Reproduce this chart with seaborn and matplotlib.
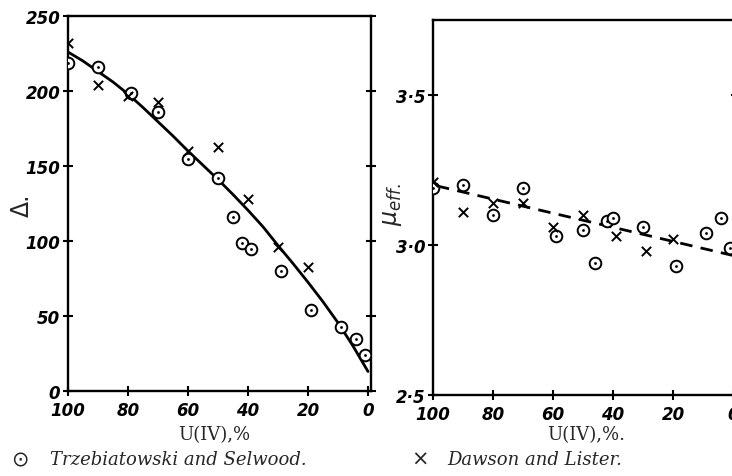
import matplotlib
matplotlib.use("Agg")
import matplotlib.pyplot as plt
import seaborn as sns

# ---- left panel: Delta vs U(IV) % ----
ts_x = [100, 90, 79, 70, 60, 50, 45, 42, 39, 29, 19, 9, 4, 1]
ts_delta = [219, 216, 199, 186, 155, 142, 116, 99, 95, 80, 54, 43, 35, 24]
dl_x = [100, 90, 80, 70, 60, 50, 40, 30, 20]
dl_delta = [232, 204, 197, 193, 160, 163, 128, 96, 83]
fit_x = [100, 95, 90, 85, 80, 75, 70, 65, 60, 55, 50, 45, 40, 35, 30, 25, 20, 15, 10, 5, 0]
fit_delta = [226, 220, 213, 206, 198, 189, 179.5, 170, 160, 150.5, 141, 131, 120.5,
             109.5, 97, 85, 72.5, 59.5, 45.5, 30, 13]

# ---- right panel: mu_eff vs U(IV) % ----
ts_mu_x = [100, 90, 80, 70, 59, 50, 46, 42, 40, 30, 19, 9, 4, 1]
ts_mu = [3.19, 3.20, 3.10, 3.19, 3.03, 3.05, 2.94, 3.08, 3.09, 3.06, 2.93, 3.04, 3.09, 2.99]
dl_mu_x = [100, 90, 80, 70, 60, 50, 39, 29, 20]
dl_mu = [3.21, 3.11, 3.14, 3.14, 3.06, 3.10, 3.03, 2.98, 3.02]
trend_x = [100, 0]
trend_mu = [3.20, 2.965]

sns.set_style("ticks")
plt.rcParams["font.family"] = ["DejaVu Sans"]

W, H = 732, 477
fig = plt.figure(figsize=(W / 100, H / 100), dpi=100)
ax1 = fig.add_axes([68 / W, (H - 392) / H, (371 - 68) / W, (392 - 17) / H])
ax2 = fig.add_axes([433 / W, (H - 396) / H, (736 - 433) / W, (396 - 21) / H])

tick_font = dict(fontsize=12, fontweight="bold", fontstyle="italic")


def draw_points(ax, xs, ys, cx, cy):
    sns.scatterplot(x=xs, y=ys, ax=ax, marker="o", s=70, facecolor="white",
                    edgecolor="black", linewidth=1.4, zorder=3)
    sns.scatterplot(x=xs, y=ys, ax=ax, marker="o", s=4, color="black",
                    linewidth=0, zorder=4)
    sns.scatterplot(x=cx, y=cy, ax=ax, marker="x", s=45, color="black",
                    linewidth=1.4, zorder=5)


def style_axes(ax):
    for side in ["left", "right", "top", "bottom"]:
        ax.spines[side].set_visible(True)
        ax.spines[side].set_linewidth(1.7)
        ax.spines[side].set_color("black")
    ax.tick_params(axis="both", direction="inout", length=7, width=1.5,
                   colors="black")
    ax.tick_params(axis="y", right=True, labelright=False, pad=2)
    ax.tick_params(axis="x", pad=4)
    ax.set_xlim(100, -1)
    ax.set_xticks([100, 80, 60, 40, 20, 0])
    ax.set_xticklabels(["100", "80", "60", "40", "20", "0"], **tick_font)


# left
sns.lineplot(x=fit_x, y=fit_delta, ax=ax1, color="black", linewidth=2.0, sort=False)
draw_points(ax1, ts_x, ts_delta, dl_x, dl_delta)
style_axes(ax1)
ax1.set_ylim(0, 250)
ax1.set_yticks([0, 50, 100, 150, 200, 250])
ax1.set_yticklabels(["0", "50", "100", "150", "200", "250"], **tick_font)
ax1.set_xlabel("")
ax1.set_ylabel("")

# right
sns.lineplot(x=trend_x, y=trend_mu, ax=ax2, color="black", linewidth=2.0,
             linestyle=(0, (4.5, 3)))
draw_points(ax2, ts_mu_x, ts_mu, dl_mu_x, dl_mu)
style_axes(ax2)
ax2.set_ylim(2.5, 3.75)
ax2.set_yticks([2.5, 3.0, 3.5])
ax2.set_yticklabels(["2\u00b75", "3\u00b70", "3\u00b75"], **tick_font)
ax2.set_xlabel("")
ax2.set_ylabel("")

# axis labels
fig.text(22 / W, 1 - 205 / H, "\u0394.", rotation=90, fontsize=17,
         ha="center", va="center")
fig.text(392 / W, 1 - 205 / H, r"$\mu_{eff.}$", rotation=90, fontsize=17,
         ha="center", va="center")
serif = ["DejaVu Serif"]
fig.text(214 / W, 1 - 435 / H, "U(IV),%", fontsize=13, family=serif,
         ha="center", va="center")
fig.text(586 / W, 1 - 435 / H, "U(IV),%.", fontsize=13, family=serif,
         ha="center", va="center")

# legend line at the bottom
fig.text(20 / W, 1 - 460 / H, "\u2299", fontsize=15, ha="center", va="center")
fig.text(50 / W, 1 - 460 / H, "Trzebiatowski and Selwood.", fontsize=13,
         family=serif, fontstyle="italic", ha="left", va="center")
fig.text(420 / W, 1 - 460 / H, "\u00d7", fontsize=15, ha="center", va="center")
fig.text(447 / W, 1 - 460 / H, "Dawson and Lister.", fontsize=13,
         family=serif, fontstyle="italic", ha="left", va="center")

fig.savefig("out.png", dpi=100)
